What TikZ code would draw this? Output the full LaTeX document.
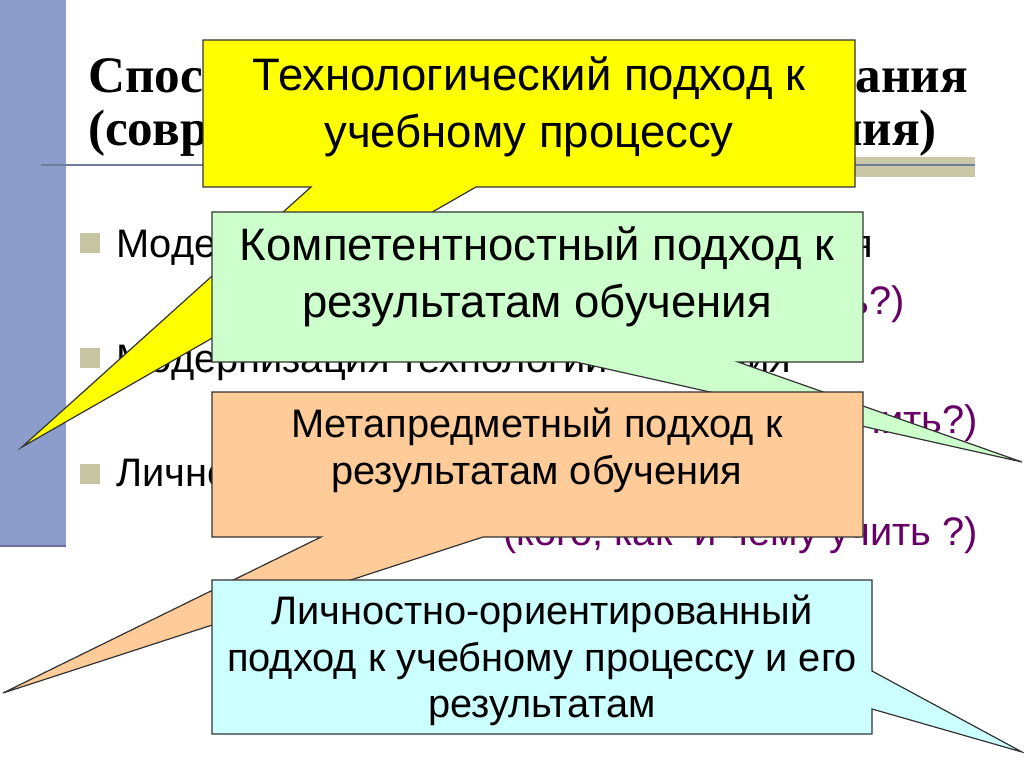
\documentclass[tikz,border=0pt]{standalone}
\usepackage{fontspec}
\setmainfont{Liberation Serif}
\setsansfont{Liberation Sans}
\usetikzlibrary{calc}

\definecolor{barblue}{HTML}{8C9DCB}
\definecolor{barshade}{HTML}{6E6FA0}
\definecolor{rulegray}{HTML}{6F7D99}
\definecolor{bandtan}{HTML}{C9C7A6}
\definecolor{bullettan}{HTML}{C6C5A2}
\definecolor{askpurple}{HTML}{660066}
\definecolor{techyellow}{HTML}{FFFF00}
\definecolor{compgreen}{HTML}{CCFFCC}
\definecolor{metaorange}{HTML}{FFCC99}
\definecolor{personcyan}{HTML}{CCFFFF}

\begin{document}
\begin{tikzpicture}[x=1pt, y=-1pt,
    callout/.style={draw=black!80, line width=1.2pt, line join=miter},
    bigtext/.style={font=\sffamily\fontsize{45.5}{57}\selectfont, align=center, anchor=north, inner sep=0pt},
    smalltext/.style={font=\sffamily\fontsize{39.8}{46.5}\selectfont, align=center, anchor=north, inner sep=0pt},
    item/.style={font=\sffamily\fontsize{39.8}{46}\selectfont, anchor=base west, inner sep=0pt},
    ask/.style={item, anchor=base east, text=askpurple},
    heading/.style={font=\bfseries\fontsize{51.2}{60}\selectfont, inner sep=0pt},
    bullet/.style={fill=bullettan, minimum size=20pt, inner sep=0pt}]

    \useasboundingbox (0,0) rectangle (1024,767);
    \fill[white] (0,0) rectangle (1024,767);

    \fill[barblue] (0,0) rectangle (66,547);
    \draw[barshade, line width=2.5pt] (0,546) -- (66,546);

    \fill[bandtan] (600,157) rectangle (975,177);
    \draw[rulegray, line width=1.5pt] (41,165) -- (975,165);

    \node[heading, anchor=base west] (head1l) at (88,93) {Способы};
    \node[heading, anchor=base east] (head1r) at (968,93) {образования};
    \node[heading, anchor=base west] (head2l) at (88,146) {(современные};
    \node[heading, anchor=base east] (head2r) at (937,146) {обучения)};

    \foreach \y [count=\i] in {243,358,474}
        \node[bullet] (b\i) at (90,\y) {};

    \node[item] (item1) at (116,257) {Модернизация содержания образования};
    \node[ask] (ask1) at (905,314) {(чему учить?)};
    \node[item] (item2) at (116,372) {Модернизация технологии обучения};
    \node[ask] (ask2) at (978,433) {(как учить?)};
    \node[item] (item3) at (116,486) {Личностно-ориентированное обучение};
    \node[ask] (ask3) at (978,545) {(кого, как\ \ и чему учить ?)};

    \coordinate (tech nw) at (203,40);
    \coordinate (tech se) at (855,187);
    \coordinate (tech tip) at (22,447);
    \draw[callout, fill=techyellow] (tech nw) -| (tech se) -- (476,187) -- (tech tip) -- (311,187) -| (tech nw) -- cycle;
    \node[bigtext] (tech) at (529,57) {Технологический подход к\\учебному процессу};

    \coordinate (comp nw) at (212,212);
    \coordinate (comp se) at (863,362);
    \coordinate (comp tip) at (1022,462);
    \draw[callout, fill=compgreen] (comp nw) -| (comp se) -- (738,362) -- (comp tip) -- (576,362) -| (comp nw) -- cycle;
    \node[bigtext] (comp) at (537,227) {Компетентностный подход к\\результатам обучения};

    \coordinate (meta nw) at (212,392);
    \coordinate (meta se) at (863,537);
    \coordinate (meta tip) at (3,693);
    \draw[callout, fill=metaorange] (meta nw) -| (meta se) -- (483,537) -- (meta tip) -- (321,537) -| (meta nw) -- cycle;
    \node[smalltext] (meta) at (537,408) {Метапредметный подход к\\результатам обучения};

    \coordinate (pers nw) at (212,580);
    \coordinate (pers se) at (872,734);
    \coordinate (pers tip) at (1022,752);
    \draw[callout, fill=personcyan] (pers nw) -- (872,580) -- (872,671) -- (pers tip) -- (872,709) -- (pers se) -| (pers nw) -- cycle;
    \node[smalltext] (pers) at (542,595) {Личностно-ориентированный\\подход к учебному процессу и его\\результатам};
\end{tikzpicture}
\end{document}
